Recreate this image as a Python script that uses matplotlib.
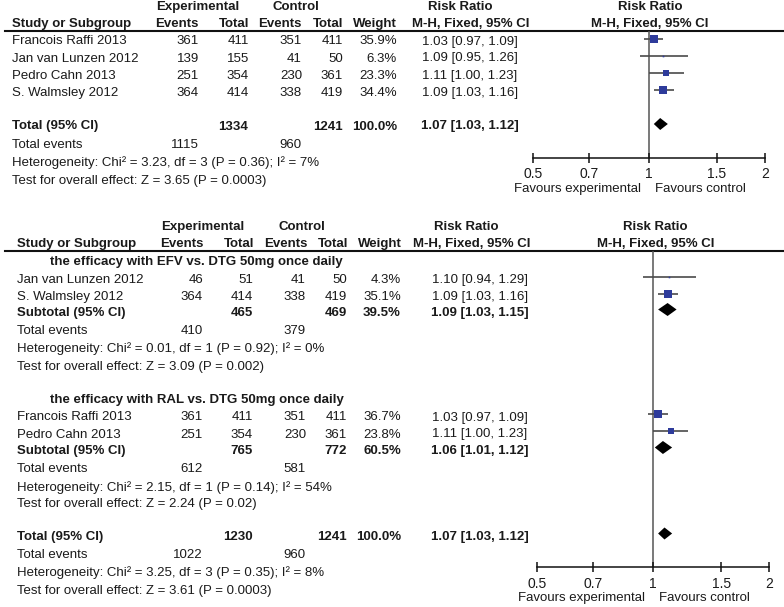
import matplotlib
matplotlib.use('Agg')
import matplotlib.pyplot as plt
import numpy as np

plt.rcParams['font.family'] = ['Liberation Sans', 'DejaVu Sans']

W, H = 784, 607
FS = 9.5
TXT = '#1a1a1a'
SQ = '#2e3b9b'
CI = '#4a4a4a'

# ---------------- Data: top panel ----------------
top_studies = ["Francois Raffi 2013", "Jan van Lunzen 2012", "Pedro Cahn 2013", "S. Walmsley 2012"]
top_exp_events = [361, 139, 251, 364]
top_exp_total = [411, 155, 354, 414]
top_ctl_events = [351, 41, 230, 338]
top_ctl_total = [411, 50, 361, 419]
top_weight = [35.9, 6.3, 23.3, 34.4]
top_rr = [1.03, 1.09, 1.11, 1.09]
top_lo = [0.97, 0.95, 1.00, 1.03]
top_hi = [1.09, 1.26, 1.23, 1.16]
top_sum_totals = [1334, 1241]
top_sum_events = [1115, 960]
top_sum_est = [1.07, 1.03, 1.12]
top_het = "Heterogeneity: Chi² = 3.23, df = 3 (P = 0.36); I² = 7%"
top_test = "Test for overall effect: Z = 3.65 (P = 0.0003)"

# ---------------- Data: bottom panel ----------------
g1_title = "the efficacy with EFV vs. DTG 50mg once daily"
g1_studies = ["Jan van Lunzen 2012", "S. Walmsley 2012"]
g1_exp_events = [46, 364]
g1_exp_total = [51, 414]
g1_ctl_events = [41, 338]
g1_ctl_total = [50, 419]
g1_weight = [4.3, 35.1]
g1_rr = [1.10, 1.09]
g1_lo = [0.94, 1.03]
g1_hi = [1.29, 1.16]
g1_sub_totals = [465, 469]
g1_sub_weight = 39.5
g1_sub_est = [1.09, 1.03, 1.15]
g1_sub_events = [410, 379]
g1_het = "Heterogeneity: Chi² = 0.01, df = 1 (P = 0.92); I² = 0%"
g1_test = "Test for overall effect: Z = 3.09 (P = 0.002)"

g2_title = "the efficacy with RAL vs. DTG 50mg once daily"
g2_studies = ["Francois Raffi 2013", "Pedro Cahn 2013"]
g2_exp_events = [361, 251]
g2_exp_total = [411, 354]
g2_ctl_events = [351, 230]
g2_ctl_total = [411, 361]
g2_weight = [36.7, 23.8]
g2_rr = [1.03, 1.11]
g2_lo = [0.97, 1.00]
g2_hi = [1.09, 1.23]
g2_sub_totals = [765, 772]
g2_sub_weight = 60.5
g2_sub_est = [1.06, 1.01, 1.12]
g2_sub_events = [612, 581]
g2_het = "Heterogeneity: Chi² = 2.15, df = 1 (P = 0.14); I² = 54%"
g2_test = "Test for overall effect: Z = 2.24 (P = 0.02)"

all_totals = [1230, 1241]
all_weight = 100.0
all_est = [1.07, 1.03, 1.12]
all_events = [1022, 960]
all_het = "Heterogeneity: Chi² = 3.25, df = 3 (P = 0.35); I² = 8%"
all_test = "Test for overall effect: Z = 3.61 (P = 0.0003)"

tick_vals = [0.5, 0.7, 1, 1.5, 2]
tick_labels = ["0.5", "0.7", "1", "1.5", "2"]

# ---------------- Figure ----------------
fig = plt.figure(figsize=(W / 100, H / 100), dpi=100)
tab = fig.add_axes([0, 0, 1, 1])
tab.set_xlim(0, W)
tab.set_ylim(H, 0)
tab.axis('off')


def t(x, y, s, ha='left', bold=False, size=FS):
    tab.text(x, y, s, ha=ha, va='center', fontsize=size, color=TXT,
             fontweight='bold' if bold else 'normal')


def rrs(est, lo, hi):
    return f"{est:.2f} [{lo:.2f}, {hi:.2f}]"


def make_forest(x0, x1, y0, y1):
    ax = fig.add_axes([x0 / W, 1 - y1 / H, (x1 - x0) / W, (y1 - y0) / H])
    ax.set_xscale('log')
    ax.set_xlim(0.5, 2)
    ax.set_ylim(y1, y0)
    ax.patch.set_alpha(0)
    for s in ['top', 'left', 'right']:
        ax.spines[s].set_visible(False)
    ax.spines['bottom'].set_linewidth(1.1)
    ax.spines['bottom'].set_color('#111111')
    ax.set_yticks([])
    ax.xaxis.set_minor_locator(matplotlib.ticker.NullLocator())
    ax.set_xticks(tick_vals)
    ax.set_xticklabels(tick_labels)
    ax.tick_params(axis='x', direction='inout', length=7, width=1.1, pad=3.5,
                   labelsize=FS + 0.5, colors='#111111', labelcolor=TXT)
    ax.axvline(1, color='#555555', lw=1.1, zorder=1)
    ax.annotate("Favours experimental", xy=(1, 0), xycoords=('data', 'axes fraction'),
                xytext=(-6, -22.5), textcoords='offset points', ha='right', va='center',
                fontsize=FS, color=TXT)
    ax.annotate("Favours control", xy=(1, 0), xycoords=('data', 'axes fraction'),
                xytext=(4.5, -22.5), textcoords='offset points', ha='left', va='center',
                fontsize=FS, color=TXT)
    return ax


def study_mark(ax, y, est, lo, hi, w, scale):
    ax.plot([lo, hi], [y, y], color=CI, lw=1.2, zorder=2, solid_capstyle='butt')
    side_px = max(1.6, scale * w + 0.4)
    ax.plot([est], [y], marker='s', ms=side_px * 0.72, color=SQ, mew=0, zorder=3)


def diamond(ax, y, est, lo, hi, h=6.2):
    ax.fill([lo, est, hi, est], [y, y - h, y, y + h], color='black', lw=0, zorder=3)


# ================= TOP PANEL =================
cols_top = dict(name=12, ee=199, et=249, ce=302, ct=343, wt=397, rr=470, fh=650)
t(198, 7, "Experimental", 'center', True)
t(296, 7, "Control", 'center', True)
t(460, 7, "Risk Ratio", 'center', True)
t(650, 7, "Risk Ratio", 'center', True)
hy = 24
t(cols_top['name'], hy, "Study or Subgroup", bold=True)
t(cols_top['ee'], hy, "Events", 'right', True)
t(cols_top['et'], hy, "Total", 'right', True)
t(cols_top['ce'], hy, "Events", 'right', True)
t(cols_top['ct'], hy, "Total", 'right', True)
t(cols_top['wt'], hy, "Weight", 'right', True)
t(471, hy, "M-H, Fixed, 95% CI", 'center', True)
t(650, hy, "M-H, Fixed, 95% CI", 'center', True)
tab.plot([5, W], [30.5, 30.5], color='#111111', lw=1.5)

axT = make_forest(532.7, 765, 30.5, 157.5)
rows_top = [41.5, 58.5, 76, 93]
for i, y in enumerate(rows_top):
    t(cols_top['name'], y, top_studies[i])
    t(cols_top['ee'], y, str(top_exp_events[i]), 'right')
    t(cols_top['et'], y, str(top_exp_total[i]), 'right')
    t(cols_top['ce'], y, str(top_ctl_events[i]), 'right')
    t(cols_top['ct'], y, str(top_ctl_total[i]), 'right')
    t(cols_top['wt'], y, f"{top_weight[i]:.1f}%", 'right')
    t(cols_top['rr'], y, rrs(top_rr[i], top_lo[i], top_hi[i]), 'center')
    study_mark(axT, y - 3, top_rr[i], top_lo[i], top_hi[i], top_weight[i], 0.2)

y = 126.5
t(cols_top['name'], y, "Total (95% CI)", bold=True)
t(248, y, str(top_sum_totals[0]), 'right', True)
t(cols_top['ct'], y, str(top_sum_totals[1]), 'right', True)
t(cols_top['wt'], y, "100.0%", 'right', True)
t(cols_top['rr'], y, rrs(*top_sum_est), 'center', True)
diamond(axT, y - 2.5, top_sum_est[0], top_sum_est[1], top_sum_est[2], 6)
y = 145
t(cols_top['name'], y, "Total events")
t(cols_top['ee'], y, str(top_sum_events[0]), 'right')
t(cols_top['ce'], y, str(top_sum_events[1]), 'right')
t(cols_top['name'], 163, top_het)
t(cols_top['name'], 181, top_test)

# ================= BOTTOM PANEL =================
cb = dict(name=17, ee=203, et=253, ce=306, ct=347, wt=401, rr=480)
t(203, 227, "Experimental", 'center', True)
t(301.5, 227, "Control", 'center', True)
t(466, 227, "Risk Ratio", 'center', True)
t(655, 227, "Risk Ratio", 'center', True)
hy = 244
t(cb['name'], hy, "Study or Subgroup", bold=True)
t(cb['ee'] + 1, hy, "Events", 'right', True)
t(cb['et'] + 1, hy, "Total", 'right', True)
t(cb['ce'] + 2, hy, "Events", 'right', True)
t(cb['ct'] + 1, hy, "Total", 'right', True)
t(cb['wt'] + 1, hy, "Weight", 'right', True)
t(472, hy, "M-H, Fixed, 95% CI", 'center', True)
t(656, hy, "M-H, Fixed, 95% CI", 'center', True)
tab.plot([5, W], [250.5, 250.5], color='#111111', lw=1.5)

axB = make_forest(537, 769.3, 250.5, 567)


def group(title, ty, rows, studies, ee, et, ce, ct, wts, rr, lo, hi,
          sub_y, sub_tot, sub_w, sub_est, ev_y, sub_ev, het, test, het_y, test_y):
    t(50, ty, title, bold=True)
    for i, y in enumerate(rows):
        t(cb['name'], y, studies[i])
        t(cb['ee'], y, str(ee[i]), 'right')
        t(cb['et'], y, str(et[i]), 'right')
        t(cb['ce'], y, str(ce[i]), 'right')
        t(cb['ct'], y, str(ct[i]), 'right')
        t(cb['wt'], y, f"{wts[i]:.1f}%", 'right')
        t(cb['rr'], y, rrs(rr[i], lo[i], hi[i]), 'center')
        study_mark(axB, y - 3.5, rr[i], lo[i], hi[i], wts[i], 0.21)
    t(cb['name'], sub_y, "Subtotal (95% CI)", bold=True)
    t(cb['et'], sub_y, str(sub_tot[0]), 'right', True)
    t(cb['ct'], sub_y, str(sub_tot[1]), 'right', True)
    t(cb['wt'], sub_y, f"{sub_w:.1f}%", 'right', True)
    t(cb['rr'], sub_y, rrs(*sub_est), 'center', True)
    diamond(axB, sub_y - 3.5, sub_est[0], sub_est[1], sub_est[2], 6.5)
    t(cb['name'], ev_y, "Total events")
    t(cb['ee'], ev_y, str(sub_ev[0]), 'right')
    t(cb['ce'], ev_y, str(sub_ev[1]), 'right')
    t(cb['name'], het_y, het)
    t(cb['name'], test_y, test)


group(g1_title, 262, [280, 297], g1_studies, g1_exp_events, g1_exp_total, g1_ctl_events,
      g1_ctl_total, g1_weight, g1_rr, g1_lo, g1_hi, 313, g1_sub_totals, g1_sub_weight,
      g1_sub_est, 331, g1_sub_events, g1_het, g1_test, 349, 367)
group(g2_title, 399.5, [417.5, 434.5], g2_studies, g2_exp_events, g2_exp_total, g2_ctl_events,
      g2_ctl_total, g2_weight, g2_rr, g2_lo, g2_hi, 451, g2_sub_totals, g2_sub_weight,
      g2_sub_est, 469.5, g2_sub_events, g2_het, g2_test, 487.5, 504)

y = 537
t(cb['name'], y, "Total (95% CI)", bold=True)
t(cb['et'], y, str(all_totals[0]), 'right', True)
t(cb['ct'], y, str(all_totals[1]), 'right', True)
t(cb['wt'], y, f"{all_weight:.1f}%", 'right', True)
t(cb['rr'], y, rrs(*all_est), 'center', True)
diamond(axB, y - 3.5, all_est[0], all_est[1], all_est[2], 6)
t(cb['name'], 555, "Total events")
t(cb['ee'], 555, str(all_events[0]), 'right')
t(cb['ce'], 555, str(all_events[1]), 'right')
t(cb['name'], 573, all_het)
t(cb['name'], 591, all_test)

fig.savefig('out.png', dpi=100)
